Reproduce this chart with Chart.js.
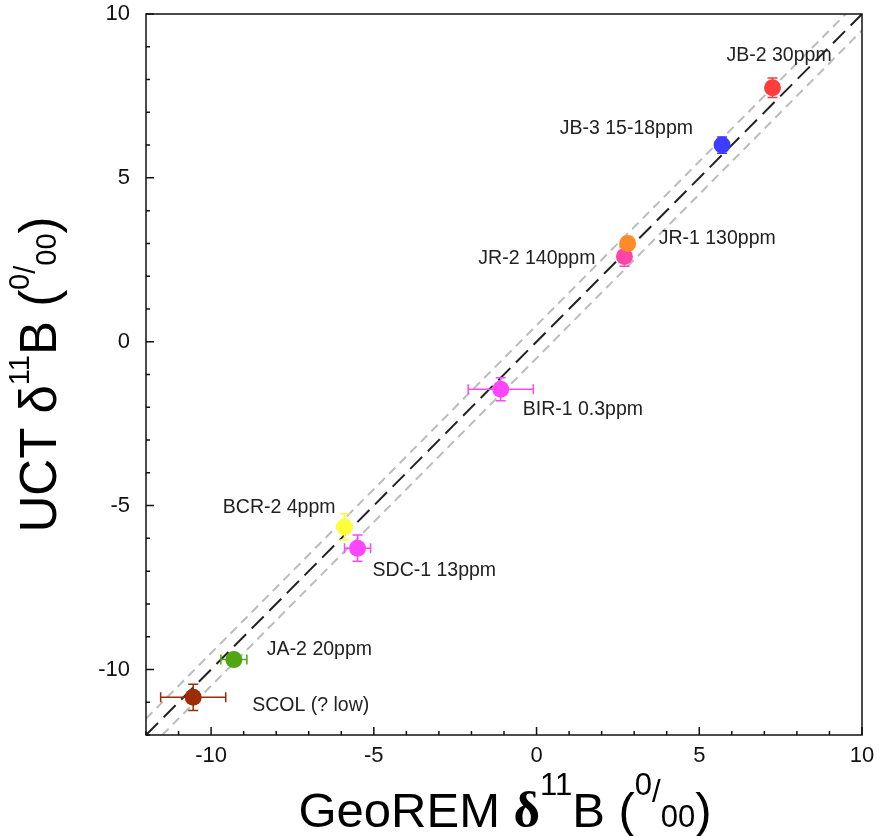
<!DOCTYPE html>
<html>
<head>
<meta charset="utf-8">
<script src="https://cdn.jsdelivr.net/npm/chart.js@4.4.0/dist/chart.umd.min.js"></script>
<style>
html, body { margin: 0; padding: 0; background: #fff; }
#wrap { width: 879px; height: 836px; }
</style>
</head>
<body>
<div id="wrap"><canvas id="boronChart"></canvas></div>
<script>
// reference materials, GeoREM value vs measured (UCT)
const sampleNames = ["JB-2 30ppm", "JB-3 15-18ppm", "JR-2 140ppm", "JR-1 130ppm", "BIR-1 0.3ppm",
                     "BCR-2 4ppm", "SDC-1 13ppm", "JA-2 20ppm", "SCOL (? low)"];
const georemValues = [7.25, 5.7, 2.7, 2.8, -1.1, -5.9, -5.5, -9.3, -10.55];
const uctValues    = [7.75, 6.0, 2.6, 3.0, -1.45, -5.65, -6.3, -9.7, -10.85];
const georemErrors = [0, 0, 0, 0, 1.0, 0, 0.4, 0.4, 1.0];
const uctErrors    = [0.3, 0.25, 0.3, 0.2, 0.35, 0.4, 0.4, 0.15, 0.4];
const pointColors  = ["#ff3d3d", "#3d3dff", "#ff45a8", "#ff8a2a", "#ff45ff",
                      "#ffff3a", "#ff45ff", "#4fa512", "#9c2b06"];

const xTickValues = [-10, -5, 0, 5, 10];
const yTickValues = [-10, -5, 0, 5, 10];

// 1:1 line and +/-0.5 band
const oneToOneX = [-12, 10];
const oneToOneY = [-12, 10];
const upperBandX = [-12, 9.5];
const upperBandY = [-11.5, 10];
const lowerBandX = [-11.5, 10];
const lowerBandY = [-12, 9.5];

function toPoints(xs, ys) {
  return xs.map(function (x, i) { return { x: x, y: ys[i] }; });
}

// label placement relative to the marker (pixels)
const labelStyle = {
  align: ["left", "right", "right", "left", "left", "right", "left", "left", "left"],
  dx: [-46, -29, -29, 31, 22, -9, 15, 33, 59],
  dy: [-32, -16, 2, -5, 20, -19, 22, -10, 8]
};

const errorBars = {
  id: 'errorBars',
  beforeDatasetDraw(chart, args) {
    if (args.index !== 0) return;
    const ctx = chart.ctx, xs = chart.scales.x, ys = chart.scales.y;
    const cap = 5;
    ctx.save();
    ctx.lineWidth = 1.5;
    for (let i = 0; i < georemValues.length; i++) {
      const px = xs.getPixelForValue(georemValues[i]);
      const py = ys.getPixelForValue(uctValues[i]);
      ctx.strokeStyle = pointColors[i];
      ctx.beginPath();
      if (georemErrors[i] > 0) {
        const x1 = xs.getPixelForValue(georemValues[i] - georemErrors[i]);
        const x2 = xs.getPixelForValue(georemValues[i] + georemErrors[i]);
        ctx.moveTo(x1, py); ctx.lineTo(x2, py);
        ctx.moveTo(x1, py - cap); ctx.lineTo(x1, py + cap);
        ctx.moveTo(x2, py - cap); ctx.lineTo(x2, py + cap);
      }
      if (uctErrors[i] > 0) {
        const y1 = ys.getPixelForValue(uctValues[i] - uctErrors[i]);
        const y2 = ys.getPixelForValue(uctValues[i] + uctErrors[i]);
        ctx.moveTo(px, y1); ctx.lineTo(px, y2);
        ctx.moveTo(px - cap, y1); ctx.lineTo(px + cap, y1);
        ctx.moveTo(px - cap, y2); ctx.lineTo(px + cap, y2);
      }
      ctx.stroke();
    }
    ctx.restore();
  }
};

// box, inward ticks, point labels and the axis titles
function drawRuns(ctx, runs) {
  let w = 0;
  runs.forEach(function (r) { ctx.font = r.font; w += ctx.measureText(r.text).width; });
  let x = -w / 2;
  runs.forEach(function (r) {
    ctx.font = r.font;
    ctx.fillText(r.text, x, r.dy || 0);
    x += ctx.measureText(r.text).width;
  });
}

const decorations = {
  id: 'decorations',
  afterDraw(chart) {
    const ctx = chart.ctx, a = chart.chartArea;
    const xs = chart.scales.x, ys = chart.scales.y;
    ctx.save();
    ctx.strokeStyle = '#111';
    ctx.lineWidth = 1.5;
    ctx.strokeRect(a.left, a.top, a.right - a.left, a.bottom - a.top);
    ctx.beginPath();
    for (let v = -12; v <= 10; v++) {
      const len = (v % 5 === 0) ? 8 : 4;
      const px = xs.getPixelForValue(v);
      ctx.moveTo(px, a.bottom); ctx.lineTo(px, a.bottom - len);
      const py = ys.getPixelForValue(v);
      ctx.moveTo(a.left, py); ctx.lineTo(a.left + len, py);
    }
    ctx.stroke();

    ctx.fillStyle = '#222';
    ctx.font = '19.5px Arial, "Liberation Sans", sans-serif';
    ctx.textBaseline = 'middle';
    for (let i = 0; i < sampleNames.length; i++) {
      const px = xs.getPixelForValue(georemValues[i]);
      const py = ys.getPixelForValue(uctValues[i]);
      ctx.textAlign = labelStyle.align[i];
      ctx.fillText(sampleNames[i], px + labelStyle.dx[i], py + labelStyle.dy[i]);
    }

    const big = '49px Arial, "Liberation Sans", sans-serif';
    const bigY = '51px Arial, "Liberation Sans", sans-serif';
    const small = '31px Arial, "Liberation Sans", sans-serif';
    const smallY = '29px Arial, "Liberation Sans", sans-serif';
    ctx.fillStyle = '#000';
    ctx.textAlign = 'left';
    ctx.textBaseline = 'alphabetic';

    ctx.save();
    ctx.translate((a.left + a.right) / 2 + 1, 827);
    drawRuns(ctx, [
      { text: 'GeoREM ', font: big },
      { text: 'δ', font: 'bold 51px "Liberation Serif", "Times New Roman", serif' },
      { text: '11', font: small, dy: -32 },
      { text: 'B (', font: big },
      { text: '0', font: small, dy: -32 },
      { text: '/', font: small, dy: -25 },
      { text: '00', font: small },
      { text: ')', font: big }
    ]);
    ctx.restore();

    ctx.save();
    ctx.translate(56, (a.top + a.bottom) / 2);
    ctx.rotate(-Math.PI / 2);
    drawRuns(ctx, [
      { text: 'UCT ', font: bigY },
      { text: 'δ', font: bigY },
      { text: '11', font: smallY, dy: -27 },
      { text: 'B (', font: bigY },
      { text: '0', font: smallY, dy: -27 },
      { text: '/', font: smallY, dy: -21 },
      { text: '00', font: smallY },
      { text: ')', font: bigY }
    ]);
    ctx.restore();
    ctx.restore();
  }
};

const tickFont = { family: 'Arial, "Liberation Sans", sans-serif', size: 22 };

const chart = new Chart(document.getElementById('boronChart'), {
  type: 'scatter',
  data: {
    datasets: [
      {
        label: 'samples',
        data: toPoints(georemValues, uctValues),
        backgroundColor: pointColors,
        borderColor: pointColors,
        borderWidth: 0,
        pointRadius: 8.5,
        pointHoverRadius: 8.5
      },
      {
        label: '1:1',
        type: 'line',
        data: toPoints(oneToOneX, oneToOneY),
        borderColor: '#222',
        borderWidth: 2,
        borderDash: [17, 8],
        pointRadius: 0,
        fill: false
      },
      {
        label: '+0.5',
        type: 'line',
        data: toPoints(upperBandX, upperBandY),
        borderColor: '#bcbcbc',
        borderWidth: 2,
        borderDash: [9, 6],
        pointRadius: 0,
        fill: false
      },
      {
        label: '-0.5',
        type: 'line',
        data: toPoints(lowerBandX, lowerBandY),
        borderColor: '#bcbcbc',
        borderWidth: 2,
        borderDash: [9, 6],
        pointRadius: 0,
        fill: false
      }
    ]
  },
  options: {
    responsive: true,
    maintainAspectRatio: false,
    animation: false,
    layout: { padding: { top: 14, right: 17, left: 0, bottom: 0 } },
    plugins: { legend: { display: false }, tooltip: { enabled: false } },
    scales: {
      x: {
        type: 'linear',
        min: -12,
        max: 10,
        grid: { display: false, drawTicks: false },
        border: { display: false },
        ticks: { font: tickFont, color: '#111', padding: 8, maxRotation: 0 },
        afterBuildTicks: function (s) { s.ticks = xTickValues.map(function (v) { return { value: v }; }); },
        afterFit: function (s) { s.height = 101; s.paddingLeft = 0; s.paddingRight = 0; }
      },
      y: {
        type: 'linear',
        min: -12,
        max: 10,
        grid: { display: false, drawTicks: false },
        border: { display: false },
        ticks: { font: tickFont, color: '#111', padding: 16 },
        afterBuildTicks: function (s) { s.ticks = yTickValues.map(function (v) { return { value: v }; }); },
        afterFit: function (s) { s.width = 146; s.paddingTop = 0; s.paddingBottom = 0; }
      }
    }
  },
  plugins: [errorBars, decorations]
});
</script>
</body>
</html>
